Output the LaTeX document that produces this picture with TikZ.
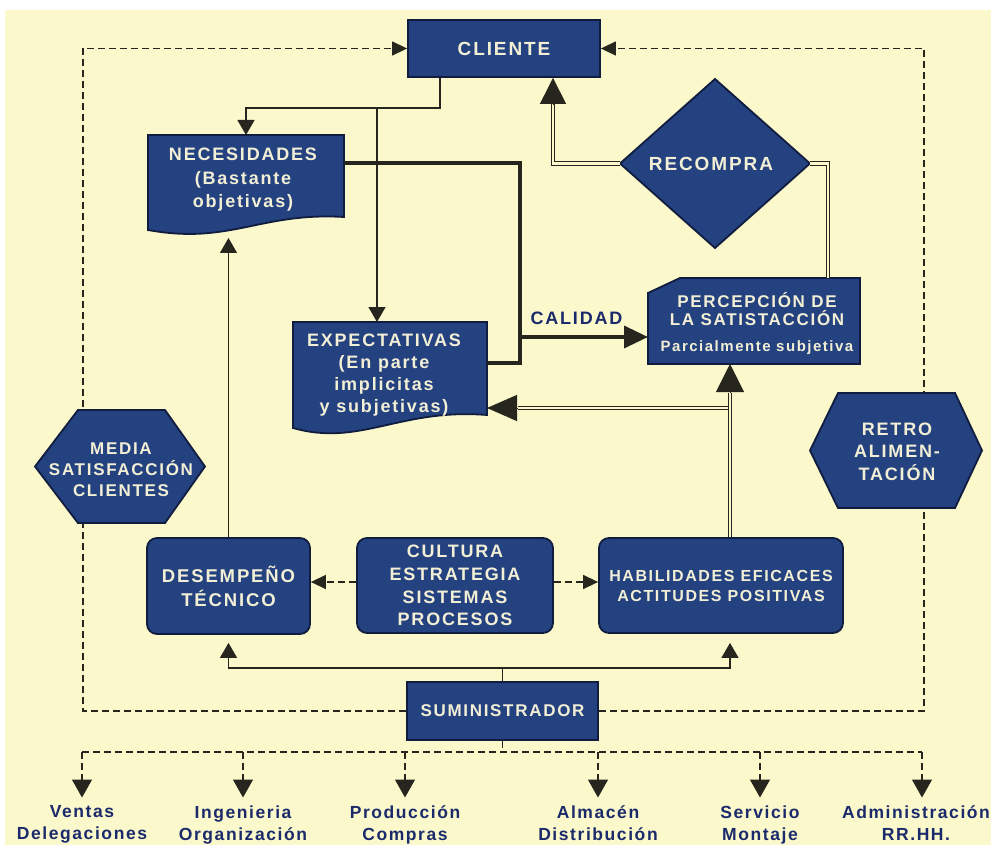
\documentclass[tikz,border=0pt]{standalone}
\usepackage{fontspec}
\setmainfont{Liberation Sans}
\newfontfamily\bxf[LetterSpace=10]{Liberation Sans}
\newfontfamily\lbf[LetterSpace=9]{Liberation Sans}
\usetikzlibrary{arrows.meta}
\definecolor{bgy}{HTML}{FBF8CB}
\definecolor{boxb}{HTML}{24427F}
\definecolor{navyb}{HTML}{101C40}
\definecolor{txtc}{HTML}{F2EFD6}
\definecolor{lnc}{HTML}{26261E}
\definecolor{lblc}{HTML}{1B2A6B}
\begin{document}
\begin{tikzpicture}[x=1pt,y=-1pt,
  box/.style={draw=navyb,line width=1.8pt,fill=boxb,text=txtc,align=center,inner sep=0pt},
  geo/.style={inner sep=0pt,outer sep=0pt},
  shp/.style={draw=navyb,line width=1.8pt,fill=boxb,line join=miter},
  txt/.style={text=txtc,align=center,inner sep=0pt},
  thinl/.style={draw=lnc,line width=1.3pt},
  thickl/.style={draw=lnc,line width=3.5pt,line join=miter},
  dashl/.style={draw=lnc,line width=1.4pt,dash pattern=on 7pt off 4pt},
  dbl/.style={draw=lnc,line width=1.1pt,double=bgy,double distance=2.2pt,line join=miter},
  tipS/.style={-{Triangle[length=15pt,width=17pt]}},
  tipD/.style={-{Triangle[length=15pt,width=14pt]}},
  tipB/.style={-{Triangle[length=18pt,width=20pt]}},
  lab/.style={text=lblc,align=center,inner sep=0pt,anchor=north,font=\lbf\bfseries\fontsize{17.5}{22}\selectfont}]
\fill[white] (0,0) rectangle (991,845);
\fill[bgy] (5,10) rectangle (991,845);
\useasboundingbox (0,0) rectangle (991,845);

% rectangular boxes
\node[box,minimum width=192pt,minimum height=57pt,font=\bxf\bfseries\fontsize{19}{23}\selectfont] (cli) at (504,48.5) {CLIENTE};
\node[box,minimum width=191pt,minimum height=58pt,font=\bxf\bfseries\fontsize{17}{21}\selectfont] (sum) at (502.5,711) {SUMINISTRADOR};
\node[box,rounded corners=10pt,minimum width=163pt,minimum height=96pt,font=\bxf\bfseries\fontsize{18.5}{24}\selectfont] (des) at (228.5,586) {DESEMPEÑO\\TÉCNICO};
\node[box,rounded corners=10pt,minimum width=196pt,minimum height=95pt,font=\bxf\bfseries\fontsize{18}{22.7}\selectfont] (cul) at (455,585.5) {CULTURA\\ESTRATEGIA\\SISTEMAS\\PROCESOS};
\node[box,rounded corners=10pt,minimum width=244pt,minimum height=95pt,font=\bxf\bfseries\fontsize{16}{20}\selectfont] (hab) at (721,585.5) {HABILIDADES EFICACES\\ACTITUDES POSITIVAS};

% geometry of the other shapes
\node[geo,minimum width=196pt,minimum height=82pt] (nec) at (246,176) {};
\node[geo,minimum width=194pt,minimum height=93pt] (exp) at (390,368.5) {};
\node[geo,minimum width=212pt,minimum height=86pt] (per) at (754,321) {};
\node[geo,minimum width=190pt,minimum height=169pt] (rec) at (715,163.5) {};
\node[geo,minimum width=170pt,minimum height=113pt] (med) at (120,466.5) {};
\node[geo,minimum width=172pt,minimum height=115pt] (ret) at (896,450.5) {};

% outer dashed loop
\coordinate (tl) at (83,48.5);
\coordinate (tr) at (924,48.5);
\draw[dashl,tipD] (sum.west) -| (tl) -- (cli.west);
\draw[dashl,tipD] (sum.east) -| (tr) -- (cli.east);

% hexagons
\draw[shp] (med.west) -- ([xshift=-42pt]med.north) -- ([xshift=45pt]med.north) -- (med.east) -- ([xshift=45pt]med.south) -- ([xshift=-42pt]med.south) -- cycle;
\node[txt,font=\bxf\bfseries\fontsize{17}{21}\selectfont] (medt) at (121,469.5) {MEDIA\\SATISFACCIÓN\\CLIENTES};
\draw[shp] (ret.west) -- ([xshift=-58pt]ret.north) -- ([xshift=59pt]ret.north) -- (ret.east) -- ([xshift=59pt]ret.south) -- ([xshift=-58pt]ret.south) -- cycle;
\node[txt,font=\bxf\bfseries\fontsize{18}{22.5}\selectfont] (rett) at (897,451.5) {RETRO\\ALIMEN-\\TACIÓN};

% diamond
\draw[shp] (rec.north) -- (rec.east) -- (rec.south) -- (rec.west) -- cycle;
\node[txt,font=\bxf\bfseries\fontsize{19}{23}\selectfont] (rect) at (711,164) {RECOMPRA};

% documents
\draw[shp] (nec.south east) .. controls (260,212) and (230,245) .. (148,230) -- (nec.north west) -- (nec.north east) -- cycle;
\node[txt,font=\bxf\bfseries\fontsize{18}{23.5}\selectfont] (nect) at (243,180) {NECESIDADES\\(Bastante\\objetivas)};
\draw[shp] (exp.south east) .. controls (400,408) and (360,447) .. (293,428) -- (exp.north west) -- (exp.north east) -- cycle;
\node[txt,font=\bxf\bfseries\fontsize{18}{22}\selectfont] (expt) at (384,375.5) {EXPECTATIVAS\\(En parte\\implicitas\\y subjetivas)};

% card
\draw[shp] ([yshift=-15pt]per.north west) -- ([xshift=32pt]per.north west) -- (per.north east) -- (per.south east) -- (per.south west) -- cycle;
\node[txt,font=\bxf\bfseries\fontsize{17}{18}\selectfont] (pert) at (757,324) {PERCEPCIÓN DE\\LA SATISTACCIÓN\\[8pt]{\fontsize{15}{18}\selectfont Parcialmente subjetiva}};

\node[font=\bxf\bfseries\fontsize{18}{22}\selectfont,text=lblc,inner sep=0pt] (cal) at (576.5,318.5) {CALIDAD};

% thin connectors from CLIENTE
\coordinate (c1) at (440,108);
\coordinate (c2) at (377,108);
\draw[thinl,tipS] (cli.south -| c1) -- (c1) -| (nec.north);
\draw[thinl,tipS] (c2) -- (c2 |- exp.north);
\coordinate (c3) at (228.5,238);
\draw[thinl,tipS] (des.north) -- (c3);

% thick connectors
\coordinate (j1) at (520,163);
\coordinate (j2) at (520,363);
\coordinate (j3) at (520,337);
\draw[thickl] (nec.east |- j1) -- (j1) -- (j2) -- (exp.east |- j2);
\draw[thickl,-{Triangle[length=24pt,width=22pt]}] (j3) -- (per.west |- j3);

% double connectors
\coordinate (r1) at (553,163.5);
\coordinate (r2) at (553,104);
\draw[dbl] (rec.west) -- (r1) -- (r2);
\draw[draw=lnc,line width=1pt,-{Triangle[length=26pt,width=26pt]}] (r2) -- (r2 |- cli.south);
\coordinate (r3) at (828,163.5);
\draw[dbl] (rec.east) -- (r3) -- (r3 |- per.north);

\coordinate (vx) at (730,0);
\coordinate (v2) at (730,393);
\coordinate (h1) at (728.5,408);
\coordinate (h2) at (518,408);
\draw[dbl] (h1) -- (h2);
\draw[draw=lnc,line width=1pt,-{Triangle[length=30pt,width=26pt]}] (h2) -- (exp.east |- h2);
\draw[dbl] (vx |- hab.north) -- (v2);
\draw[draw=lnc,line width=1pt,-{Triangle[length=28pt,width=28pt]}] (v2) -- (vx |- per.south);

% dashed arrows from CULTURA
\coordinate (m1) at (0,582);
\draw[dashl,tipD] (cul.west |- m1) -- (des.east |- m1);
\draw[dashl,tipD] (cul.east |- m1) -- (hab.west |- m1);

% from SUMINISTRADOR up
\coordinate (s1) at (502.5,668);
\draw[thinl] (sum.north) -- (s1);
\draw[thinl,tipS,shorten >=8pt] (s1) -| (des.south);
\draw[thinl,tipS,shorten >=9pt] (s1) -| (vx |- hab.south);

% bottom tree
\coordinate (b0) at (502.5,752);
\coordinate (bl) at (82,752);
\coordinate (br) at (922,752);
\draw[dashl] (sum.south) -- (b0);
\draw[dashl] (bl) -- (br);
\node[lab] (l1) at (82,805.5) {Ventas\\Delegaciones};
\node[lab] (l2) at (243,805.5) {Ingenieria\\Organización};
\node[lab] (l3) at (405,805.5) {Producción\\Compras};
\node[lab] (l4) at (598,805.5) {Almacén\\Distribución};
\node[lab] (l5) at (760,805.5) {Servicio\\Montaje};
\node[lab] (l6) at (916,805.5) {Administración\\RR.HH.};
\foreach \n in {l1,l2,l3,l4,l5}
  \draw[dashl,tipB,shorten >=8pt] (\n.north |- bl) -- (\n.north);
\draw[dashl,tipB,shorten >=8pt] (br) -- (br |- l6.north);
\end{tikzpicture}
\end{document}
